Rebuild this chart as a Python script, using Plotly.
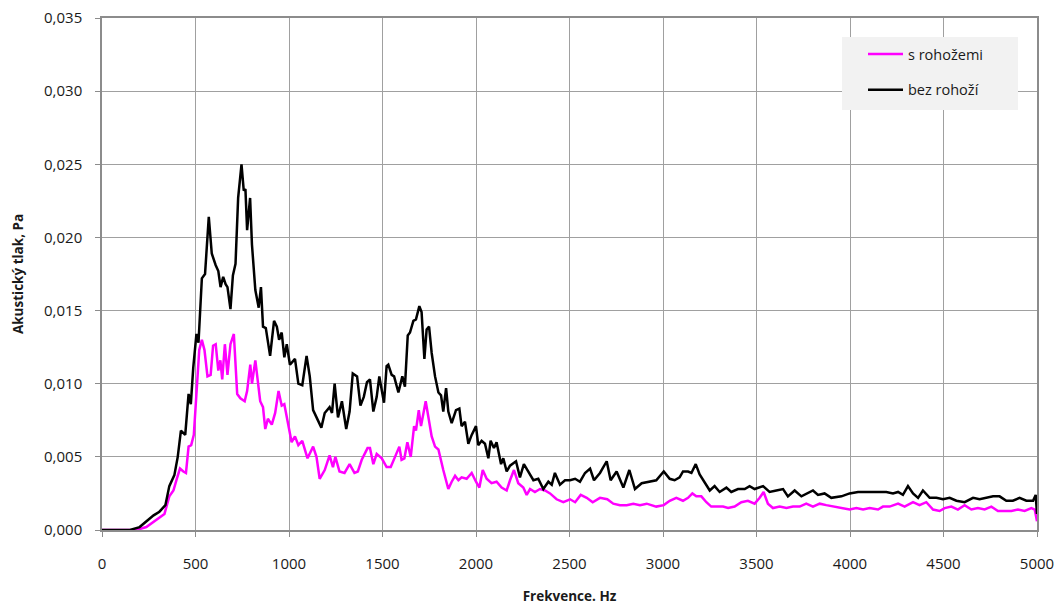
import plotly.graph_objects as go

# Black curve: "bez rohoží"
freq_bez = [0, 100, 150, 201, 254, 276, 307, 339, 360, 387, 405, 422, 445, 463, 475, 488, 505, 516,
            534, 551, 571, 587, 608, 622, 634, 648, 661, 671, 687, 700, 714, 728, 746, 758, 767, 776,
            792, 802, 820, 838, 850, 861, 876, 899, 920, 935, 947, 961, 975, 988, 1005, 1032, 1050,
            1071, 1094, 1111, 1129, 1147, 1173, 1191, 1217, 1230, 1244, 1262, 1283, 1306, 1324, 1341,
            1364, 1382, 1400, 1417, 1433, 1451, 1469, 1483, 1496, 1508, 1522, 1531, 1549, 1562, 1585,
            1606, 1620, 1635, 1647, 1665, 1679, 1697, 1709, 1724, 1736, 1749, 1763, 1781, 1799, 1813,
            1825, 1840, 1852, 1870, 1893, 1911, 1923, 1941, 1959, 1977, 2000, 2012, 2030, 2048, 2066,
            2078, 2096, 2110, 2134, 2146, 2164, 2182, 2214, 2235, 2256, 2280, 2307, 2333, 2360, 2387,
            2405, 2422, 2449, 2476, 2503, 2530, 2556, 2583, 2610, 2631, 2663, 2699, 2720, 2752, 2788,
            2820, 2850, 2886, 2922, 2964, 3004, 3036, 3062, 3089, 3107, 3134, 3152, 3175, 3196, 3223,
            3250, 3276, 3303, 3339, 3365, 3401, 3437, 3463, 3490, 3535, 3570, 3606, 3642, 3668, 3704,
            3740, 3775, 3802, 3829, 3864, 3900, 3954, 3998, 4043, 4087, 4123, 4159, 4194, 4230, 4257,
            4283, 4310, 4337, 4364, 4390, 4426, 4462, 4497, 4533, 4569, 4613, 4658, 4693, 4729, 4765,
            4800, 4836, 4871, 4907, 4943, 4979, 4993, 5000]
tlak_bez = [0, 0, 0, 0.0002, 0.0008, 0.0010, 0.00125, 0.0017, 0.0030, 0.00375, 0.0050, 0.0068, 0.0065,
            0.0093, 0.0086, 0.0111, 0.0134, 0.0128, 0.0172, 0.0175, 0.0214, 0.0189, 0.0181, 0.0177,
            0.0166, 0.0173, 0.0168, 0.0166, 0.0151, 0.0174, 0.0182, 0.0227, 0.0250, 0.0232, 0.0233,
            0.0205, 0.0227, 0.0195, 0.0164, 0.0152, 0.0166, 0.0139, 0.0138, 0.0119, 0.0143, 0.0139,
            0.0130, 0.0135, 0.0118, 0.0127, 0.0113, 0.0117, 0.0100, 0.0099, 0.0119, 0.0105, 0.0082,
            0.0077, 0.0070, 0.0080, 0.0084, 0.0080, 0.0100, 0.0077, 0.0088, 0.0069, 0.0081, 0.0107,
            0.0105, 0.0085, 0.0091, 0.0101, 0.0103, 0.0081, 0.0091, 0.0105, 0.0096, 0.0087, 0.0112,
            0.0113, 0.0106, 0.0105, 0.0094, 0.0105, 0.0098, 0.0133, 0.0135, 0.0143, 0.0144, 0.0153,
            0.0149, 0.0117, 0.0137, 0.0139, 0.0121, 0.0105, 0.0094, 0.0092, 0.0081, 0.0097, 0.0081,
            0.0073, 0.0082, 0.0083, 0.0071, 0.0074, 0.0059, 0.0065, 0.0071, 0.0058, 0.0061, 0.0059,
            0.0049, 0.0061, 0.0056, 0.0060, 0.0045, 0.0049, 0.0040, 0.0044, 0.0047, 0.0036, 0.0045,
            0.0040, 0.0034, 0.0035, 0.0028, 0.0033, 0.0031, 0.0039, 0.0031, 0.0034, 0.0034, 0.0035,
            0.0033, 0.0039, 0.0042, 0.0034, 0.0039, 0.0047, 0.0034, 0.0040, 0.0029, 0.0041, 0.0028,
            0.0032, 0.0033, 0.0034, 0.0040, 0.0035, 0.0034, 0.0036, 0.0040, 0.0040, 0.0039, 0.0045,
            0.0038, 0.0032, 0.0027, 0.0030, 0.0026, 0.0029, 0.0026, 0.0028, 0.0028, 0.0030, 0.0028,
            0.0030, 0.0026, 0.0027, 0.0028, 0.0023, 0.0027, 0.0023, 0.0025, 0.0027, 0.0024, 0.0025,
            0.0022, 0.0023, 0.0025, 0.0026, 0.0026, 0.0026, 0.0026, 0.0026, 0.0025, 0.0026, 0.0024,
            0.0030, 0.0025, 0.0022, 0.0027, 0.0022, 0.0022, 0.0021, 0.0022, 0.0020, 0.0019, 0.0022,
            0.0021, 0.0022, 0.0023, 0.0023, 0.0020, 0.0020, 0.0022, 0.0020, 0.0020, 0.0024, 0.0011]

# Magenta curve: "s rohožemi"
freq_s = [0, 100, 184, 237, 290, 334, 360, 382, 400, 417, 435, 449, 463, 477, 491, 505, 520, 534, 548,
          564, 581, 594, 608, 622, 633, 643, 657, 671, 687, 705, 723, 740, 763, 776, 793, 802, 820,
          846, 861, 873, 887, 908, 926, 944, 961, 975, 997, 1014, 1032, 1050, 1071, 1099, 1129, 1147,
          1164, 1191, 1217, 1235, 1248, 1270, 1297, 1324, 1350, 1368, 1389, 1420, 1433, 1451, 1469,
          1496, 1522, 1544, 1567, 1590, 1602, 1617, 1633, 1651, 1669, 1679, 1694, 1706, 1731, 1745,
          1763, 1781, 1799, 1825, 1852, 1870, 1888, 1906, 1923, 1950, 1977, 2000, 2018, 2036, 2057,
          2083, 2110, 2137, 2164, 2182, 2203, 2226, 2253, 2271, 2289, 2315, 2342, 2369, 2396, 2431,
          2467, 2503, 2530, 2560, 2592, 2624, 2663, 2702, 2734, 2770, 2806, 2841, 2877, 2913, 2964,
          3004, 3036, 3071, 3107, 3134, 3157, 3178, 3205, 3232, 3258, 3285, 3321, 3348, 3383, 3419,
          3454, 3490, 3517, 3538, 3561, 3588, 3624, 3660, 3695, 3731, 3766, 3802, 3838, 3873, 3918,
          3963, 3998, 4034, 4070, 4105, 4150, 4176, 4212, 4257, 4292, 4337, 4372, 4408, 4444, 4479,
          4506, 4542, 4577, 4613, 4649, 4684, 4720, 4756, 4791, 4827, 4863, 4898, 4934, 4970, 4988,
          5000]
tlak_s = [0, 0, 0, 0.0002, 0.0007, 0.0011, 0.0023, 0.0027, 0.0035, 0.0042, 0.0040, 0.0039, 0.0057,
          0.0058, 0.0065, 0.0095, 0.0123, 0.0130, 0.0123, 0.0105, 0.0106, 0.0126, 0.0127, 0.0109,
          0.0116, 0.0103, 0.0127, 0.0106, 0.0127, 0.0134, 0.0093, 0.0090, 0.0088, 0.0095, 0.0113,
          0.0100, 0.0116, 0.0088, 0.0084, 0.0069, 0.0076, 0.0072, 0.0080, 0.0095, 0.0085, 0.0086,
          0.0070, 0.0060, 0.0064, 0.0058, 0.0061, 0.0049, 0.0057, 0.0050, 0.0035, 0.0041, 0.0051,
          0.0043, 0.0050, 0.0040, 0.0039, 0.0045, 0.0039, 0.0040, 0.0048, 0.0056, 0.0056, 0.0045,
          0.0052, 0.0049, 0.0043, 0.0043, 0.0050, 0.0057, 0.0048, 0.0049, 0.0060, 0.0050, 0.0071,
          0.0068, 0.0082, 0.0071, 0.0088, 0.0078, 0.0064, 0.0057, 0.0055, 0.0041, 0.0028, 0.0033,
          0.0037, 0.0034, 0.0036, 0.0035, 0.0039, 0.0033, 0.0029, 0.0041, 0.0035, 0.0032, 0.0033,
          0.0029, 0.0027, 0.0034, 0.0041, 0.0032, 0.0029, 0.0024, 0.0028, 0.0026, 0.0028, 0.0027,
          0.0025, 0.0021, 0.0019, 0.0021, 0.0019, 0.0024, 0.0022, 0.0019, 0.0022, 0.0021, 0.0018,
          0.0017, 0.0017, 0.0018, 0.0017, 0.0018, 0.0016, 0.0017, 0.0020, 0.0022, 0.0020, 0.0022,
          0.0025, 0.0023, 0.0023, 0.0019, 0.0016, 0.0016, 0.0016, 0.0015, 0.0016, 0.0019, 0.0020,
          0.0018, 0.0022, 0.0026, 0.0018, 0.0015, 0.0016, 0.0015, 0.0016, 0.0016, 0.0018, 0.0016,
          0.0018, 0.0017, 0.0016, 0.0015, 0.0014, 0.0015, 0.0014, 0.0015, 0.0014, 0.0016, 0.0016,
          0.0018, 0.0016, 0.0019, 0.0017, 0.0019, 0.0014, 0.0013, 0.0015, 0.0016, 0.0014, 0.0017,
          0.0014, 0.0015, 0.0014, 0.0016, 0.0013, 0.0013, 0.0013, 0.0014, 0.0013, 0.0015, 0.0014,
          0.0006]

x_ticks = [0, 500, 1000, 1500, 2000, 2500, 3000, 3500, 4000, 4500, 5000]
y_ticks = [0, 0.005, 0.010, 0.015, 0.020, 0.025, 0.030, 0.035]

FONT = "Open Sans"
GRID = "#a0a0a0"
AXIS = "#8c8c8c"

fig = go.Figure()
fig.add_trace(go.Scatter(x=freq_s, y=tlak_s, mode="lines", name="s rohožemi",
                         line=dict(color="#ff00ff", width=2.5), legendgroup="a"))
fig.add_trace(go.Scatter(x=freq_bez, y=tlak_bez, mode="lines", name="bez rohoží",
                         line=dict(color="#000000", width=2.5), legendgroup="b"))

fig.update_layout(
    width=1061, height=605,
    margin=dict(l=102, r=24, t=18, b=75),
    paper_bgcolor="white", plot_bgcolor="white",
    separators=", ",
    font=dict(family=FONT, size=14, color="#1a1a1a"),
    showlegend=True,
    legend=dict(x=(863 - 102) / 935, y=(530 - 38) / 512, xanchor="left", yanchor="top",
                bgcolor="rgba(0,0,0,0)", borderwidth=0,
                font=dict(family=FONT, size=14.5, color="#1a1a1a"),
                tracegroupgap=14, itemwidth=35),
    shapes=[dict(type="rect", xref="paper", yref="paper",
                 x0=(842 - 102) / 935, x1=(1018 - 102) / 935,
                 y0=(530 - 110) / 512, y1=(530 - 37) / 512,
                 fillcolor="#f2f2f2", line=dict(width=0), layer="above")],
)
fig.update_xaxes(
    range=[0, 5000], tickvals=x_ticks, ticktext=[str(v) for v in x_ticks],
    showgrid=True, gridcolor=GRID, gridwidth=1,
    showline=True, linecolor=AXIS, linewidth=1.5, mirror=True,
    ticks="outside", ticklen=5, tickcolor=AXIS, ticklabelstandoff=14,
    zeroline=False, automargin=False,
    tickfont=dict(family=FONT, size=15),
    title=dict(text="<b>Frekvence. Hz</b>", font=dict(family=FONT, size=13.5), standoff=22),
)
fig.update_yaxes(
    range=[0, 0.035], tickvals=y_ticks, tickformat=".3f",
    showgrid=True, gridcolor=GRID, gridwidth=1,
    showline=True, linecolor=AXIS, linewidth=1.5, mirror=True,
    ticks="outside", ticklen=5, tickcolor=AXIS, ticklabelstandoff=10,
    zeroline=False, automargin=False,
    tickfont=dict(family=FONT, size=15),
    title=dict(text="<b>Akustický tlak, Pa</b>", font=dict(family=FONT, size=13.5), standoff=17),
)

fig.write_html("out.html", config={"displayModeBar": False},
               post_script="document.body.style.margin='0';")
